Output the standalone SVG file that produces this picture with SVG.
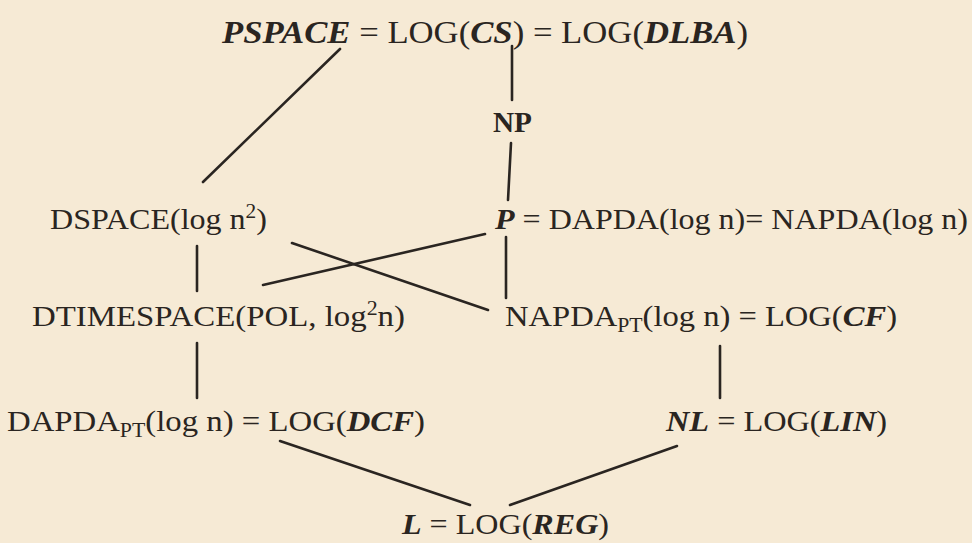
<svg xmlns="http://www.w3.org/2000/svg" width="972" height="543" viewBox="0 0 972 543">
<style>
text{font-family:"Liberation Serif","Times New Roman",serif;font-size:30px;fill:#2a2521}
.bi{font-weight:bold;font-style:italic}
.b{font-weight:bold}
.sm{font-size:20px}
#edges line{stroke:#2a2521;stroke-width:2.6;stroke-linecap:round}
</style>
<rect width="972" height="543" fill="#f6ead5"/>
<g id="edges">
<line x1="340" y1="49" x2="203" y2="182"/>
<line x1="512" y1="46" x2="512" y2="100"/>
<line x1="511" y1="143" x2="508" y2="200"/>
<line x1="197" y1="246" x2="197" y2="291"/>
<line x1="292" y1="243" x2="488" y2="310"/>
<line x1="263" y1="285" x2="485" y2="234"/>
<line x1="506" y1="237" x2="506" y2="298"/>
<line x1="197" y1="343" x2="197" y2="398"/>
<line x1="720" y1="346" x2="720" y2="398"/>
<line x1="280" y1="441" x2="470" y2="505"/>
<line x1="677" y1="446" x2="510" y2="505"/>
</g>
<g id="pspace"><text x="222" y="43" style="font-size:32px" textLength="526" lengthAdjust="spacingAndGlyphs"><tspan class="bi">PSPACE</tspan>  = LOG(<tspan class="bi">CS</tspan>) = LOG(<tspan class="bi">DLBA</tspan>)</text></g>
<g id="np"><text x="493" y="132" class="b" style="font-size:29px" textLength="39" lengthAdjust="spacingAndGlyphs">NP</text></g>
<g id="dspace"><text x="50" y="229" textLength="217" lengthAdjust="spacingAndGlyphs">DSPACE(log n<tspan class="sm" dy="-11">2</tspan><tspan dy="11">)</tspan></text></g>
<g id="p"><text x="495" y="229" textLength="473" lengthAdjust="spacingAndGlyphs"><tspan class="bi">P</tspan> = DAPDA(log n)= NAPDA(log n)</text></g>
<g id="dtimespace"><text x="32" y="326" textLength="373" lengthAdjust="spacingAndGlyphs">DTIMESPACE(POL, log<tspan class="sm" dy="-11">2</tspan><tspan dy="11">n)</tspan></text></g>
<g id="napda"><text x="505" y="326" textLength="392" lengthAdjust="spacingAndGlyphs">NAPDA<tspan class="sm" dy="6">PT</tspan><tspan dy="-6">(log n)  = LOG(</tspan><tspan class="bi">CF</tspan>)</text></g>
<g id="dapda"><text x="7" y="431" textLength="418" lengthAdjust="spacingAndGlyphs">DAPDA<tspan class="sm" dy="6">PT</tspan><tspan dy="-6">(log n) = LOG(</tspan><tspan class="bi">DCF</tspan>)</text></g>
<g id="nl"><text x="666" y="431" textLength="221" lengthAdjust="spacingAndGlyphs"><tspan class="bi">NL</tspan> = LOG(<tspan class="bi">LIN</tspan>)</text></g>
<g id="l"><text x="402" y="534" textLength="207" lengthAdjust="spacingAndGlyphs"><tspan class="bi">L</tspan> = LOG(<tspan class="bi">REG</tspan>)</text></g>
</svg>
